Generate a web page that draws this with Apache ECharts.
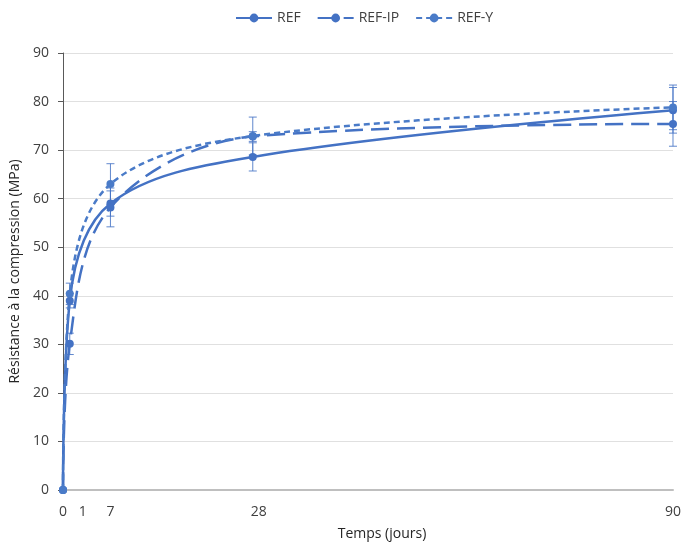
<!DOCTYPE html>
<html>
<head>
<meta charset="utf-8">
<script src="https://cdn.jsdelivr.net/npm/echarts@6/dist/echarts.min.js"></script>
<style>html,body{margin:0;padding:0;background:#fff}#c{width:684px;height:546px}</style>
</head>
<body>
<div id="c"></div>
<script>
const days = [0, 1, 7, 28, 90];
const xTickLabels = [0, 1, 7, 28, 90];
const yTicks = [0, 10, 20, 30, 40, 50, 60, 70, 80, 90];
const seriesNames = ['REF', 'REF-IP', 'REF-Y'];
const refValues = [0, 39.0, 59.0, 68.6, 78.2];
const refIpValues = [0, 30.1, 58.2, 72.8, 75.4];
const refYValues = [0, 40.4, 63.0, 72.9, 78.8];
const refErr = [0, 1.5, 2.6, 2.9, 4.7];
const refIpErr = [0, 2.2, 4.0, 1.0, 4.6];
const refYErr = [0, 2.2, 4.2, 3.9, 4.6];

const BLUE = '#4472C4';
const FONT = 'Open Sans';

function pairs(vals){ return days.map((d,i)=>[d, vals[i]]); }
function errData(vals, errs){
  const out = [];
  days.forEach((d,i)=>{ if (errs[i] > 0) out.push([d, vals[i]-errs[i], vals[i]+errs[i]]); });
  return out;
}
function errSeries(vals, errs){
  return {
    type: 'custom',
    silent: true,
    z: 1,
    data: errData(vals, errs),
    renderItem: function(params, api){
      const top = api.coord([api.value(0), api.value(2)]);
      const bot = api.coord([api.value(0), api.value(1)]);
      const w = 4;
      const st = {stroke: BLUE, lineWidth: 1, opacity: 0.85};
      return {type:'group', children:[
        {type:'line', shape:{x1:top[0], y1:top[1], x2:bot[0], y2:bot[1]}, style:st},
        {type:'line', shape:{x1:top[0]-w, y1:top[1], x2:top[0]+w, y2:top[1]}, style:st},
        {type:'line', shape:{x1:bot[0]-w, y1:bot[1], x2:bot[0]+w, y2:bot[1]}, style:st}
      ]};
    }
  };
}

const chart = echarts.init(document.getElementById('c'), null, {renderer:'canvas'});
chart.setOption({
  animation: false,
  textStyle: {fontFamily: FONT},
  legend: {
    top: 6, left: 230,
    itemWidth: 36, itemHeight: 11, itemGap: 16,
    textStyle: {fontFamily: FONT, fontSize: 14, color: '#404040'},
    data: seriesNames
  },
  grid: {left: 63, right: 9, top: 53, bottom: 54, containLabel: false},
  xAxis: {
    type: 'value', min: 0, max: 90,
    name: 'Temps (jours)', nameLocation: 'middle', nameGap: 37,
    nameTextStyle: {fontFamily: FONT, fontSize: 14, color: '#262626', padding: [0,0,0,28]},
    axisLine: {show: true, lineStyle: {color: '#bfbfbf', width: 2}},
    axisTick: {show: false},
    splitLine: {show: false},
    axisLabel: {
      customValues: xTickLabels,
      margin: 15,
      fontFamily: FONT, fontSize: 14, color: '#404040',
      formatter: function(v){
        if (v === 1) return '{s1|' + v + '}';
        if (v === 28) return '{s28|' + v + '}';
        return '' + v;
      },
      rich: {
        s1: {padding: [0,0,0,26], fontFamily: FONT, fontSize: 14, color: '#404040'},
        s28: {padding: [0,0,0,12], fontFamily: FONT, fontSize: 14, color: '#404040'}
      }
    }
  },
  yAxis: {
    type: 'value', min: 0, max: 90, interval: 10,
    name: 'Résistance à la compression (MPa)', nameLocation: 'middle', nameGap: 35,
    nameTextStyle: {fontFamily: FONT, fontSize: 14, color: '#262626'},
    axisLine: {show: true, lineStyle: {color: '#595959', width: 1}},
    axisTick: {show: true, length: 5, lineStyle: {color: '#595959'}},
    splitLine: {show: true, lineStyle: {color: '#e0e0e0', width: 1}},
    axisLabel: {margin: 14, fontFamily: FONT, fontSize: 14, color: '#404040'}
  },
  series: [
    {name: 'REF', type: 'line', data: pairs(refValues), smooth: 0.35,
     symbol: 'circle', symbolSize: 8, z: 3,
     lineStyle: {color: BLUE, width: 2.5, type: 'solid'}, itemStyle: {color: BLUE}},
    {name: 'REF-IP', type: 'line', data: pairs(refIpValues), smooth: 0.35,
     symbol: 'circle', symbolSize: 8, z: 3,
     lineStyle: {color: BLUE, width: 2.5, type: [18, 8]}, itemStyle: {color: BLUE}},
    {name: 'REF-Y', type: 'line', data: pairs(refYValues), smooth: 0.35,
     symbol: 'circle', symbolSize: 8, z: 3,
     lineStyle: {color: '#4A7BC8', width: 2.5, type: [6, 4]}, itemStyle: {color: '#4A7BC8'}},
    errSeries(refValues, refErr),
    errSeries(refIpValues, refIpErr),
    errSeries(refYValues, refYErr)
  ]
});
</script>
</body>
</html>
